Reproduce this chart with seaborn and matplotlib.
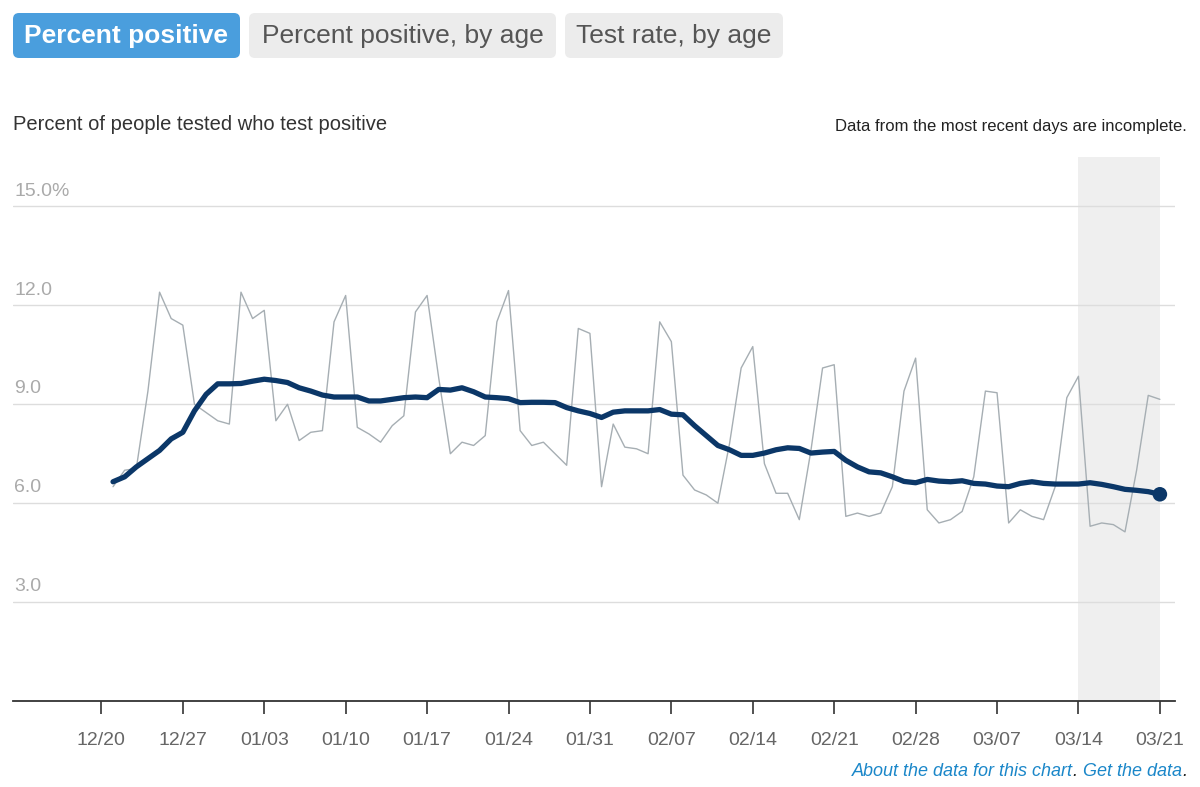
import numpy as np
import pandas as pd
import matplotlib
matplotlib.use("Agg")
import matplotlib.pyplot as plt
from matplotlib.patches import FancyBboxPatch
from matplotlib.transforms import IdentityTransform
import seaborn as sns

# 每日阳性率 (12/21 - 03/21)
start_date = "2020-12-21"
end_date = "2021-03-21"
daily_pct = [
    6.5, 7.0, 7.05, 9.4, 12.4, 11.6, 11.4, 9.0, 8.75, 8.5, 8.4,
    12.4, 11.6, 11.85, 8.5, 9.0, 7.9, 8.15, 8.2, 11.5, 12.3,
    8.3, 8.1, 7.85, 8.35, 8.65, 11.8, 12.3, 9.8, 7.5, 7.85,
    7.75, 8.05, 11.5, 12.45, 8.2, 7.75, 7.85, 7.5, 7.15, 11.3,
    11.15, 6.5, 8.4, 7.7, 7.65, 7.5, 11.5, 10.9, 6.85, 6.4,
    6.25, 6.0, 7.8, 10.1, 10.75, 7.2, 6.3, 6.3, 5.5, 7.6,
    10.1, 10.2, 5.6, 5.7, 5.6, 5.7, 6.5, 9.4, 10.4, 5.8,
    5.4, 5.5, 5.75, 6.8, 9.4, 9.35, 5.4, 5.8, 5.6, 5.5,
    6.5, 9.2, 9.85, 5.3, 5.4, 5.35, 5.13, 7.0, 9.27, 9.15,
]
# 7日平均
avg_pct = [
    6.65, 6.8, 7.1, 7.35, 7.6, 7.95, 8.15, 8.8, 9.3, 9.62, 9.62,
    9.63, 9.7, 9.76, 9.72, 9.66, 9.5, 9.4, 9.28, 9.22, 9.22,
    9.22, 9.1, 9.1, 9.15, 9.2, 9.22, 9.2, 9.45, 9.43, 9.5,
    9.38, 9.22, 9.2, 9.17, 9.05, 9.06, 9.06, 9.05, 8.9, 8.8,
    8.72, 8.6, 8.76, 8.8, 8.8, 8.8, 8.84, 8.7, 8.68, 8.35,
    8.05, 7.75, 7.62, 7.45, 7.45, 7.52, 7.62, 7.68, 7.66, 7.52,
    7.55, 7.57, 7.3, 7.1, 6.95, 6.92, 6.8, 6.66, 6.62, 6.72,
    6.67, 6.65, 6.68, 6.6, 6.58, 6.52, 6.5, 6.6, 6.65, 6.6,
    6.58, 6.58, 6.58, 6.62, 6.57, 6.5, 6.42, 6.39, 6.35, 6.27,
]

tick_dates = ["2020-12-20", "2020-12-27", "2021-01-03", "2021-01-10",
              "2021-01-17", "2021-01-24", "2021-01-31", "2021-02-07",
              "2021-02-14", "2021-02-21", "2021-02-28", "2021-03-07",
              "2021-03-14", "2021-03-21"]
tick_labels = ["12/20", "12/27", "01/03", "01/10", "01/17", "01/24", "01/31",
               "02/07", "02/14", "02/21", "02/28", "03/07", "03/14", "03/21"]
y_ticks = [3, 6, 9, 12, 15]
y_labels = ["3.0", "6.0", "9.0", "12.0", "15.0%"]
incomplete_start = "2021-03-14"
incomplete_end = "2021-03-21"

buttons = ["Percent positive", "Percent positive, by age", "Test rate, by age"]

df = pd.DataFrame({
    "date": pd.date_range(start_date, end_date, freq="D"),
    "daily": daily_pct,
    "avg": avg_pct,
})

sns.set_theme(style="white")
plt.rcParams["font.family"] = ["Liberation Sans", "DejaVu Sans"]

W, H = 1200, 787
fig = plt.figure(figsize=(W / 100, H / 100), dpi=100)
ax = fig.add_axes([13 / W, 1 - 701 / H, (1175 - 13) / W, (701 - 157) / H])

# 数据不完整区域
ax.axvspan(pd.Timestamp(incomplete_start), pd.Timestamp(incomplete_end),
           color="#efefef", lw=0, zorder=0)

sns.lineplot(data=df, x="date", y="daily", ax=ax, color="#a6aeb3", lw=1.0,
             zorder=2, solid_joinstyle="round")
sns.lineplot(data=df, x="date", y="avg", ax=ax, color="#0b3768", lw=3.8,
             zorder=3, solid_joinstyle="round", solid_capstyle="round")
last = df.iloc[[-1]]
sns.scatterplot(data=last, x="date", y="avg", ax=ax, color="#0b3768", s=110,
                edgecolor="none", zorder=4)

ax.set_xlim(pd.Timestamp("2020-12-20") - pd.Timedelta(days=7.6),
            pd.Timestamp("2021-03-21") + pd.Timedelta(days=1.3))
ax.set_ylim(0, 16.5)

# 网格线和y标签
ax.set_yticks(y_ticks)
ax.set_yticklabels([])
ax.tick_params(axis="y", length=0)
ax.yaxis.grid(True, color="#dddddd", lw=1)
ax.set_axisbelow(True)
for v, lab in zip(y_ticks, y_labels):
    ax.annotate(lab, xy=(0, v), xycoords=("axes fraction", "data"),
                xytext=(1, 11), textcoords="offset points",
                ha="left", va="center", fontsize=14, color="#aaaaaa")

ax.set_xticks(pd.to_datetime(tick_dates))
ax.set_xticklabels(tick_labels)
ax.tick_params(axis="x", direction="out", length=9, width=1.2, color="#333333",
               labelsize=14, labelcolor="#666666", pad=13, bottom=True)
ax.set_xlabel("")
ax.set_ylabel("")
for s in ["top", "left", "right"]:
    ax.spines[s].set_visible(False)
ax.spines["bottom"].set_color("#333333")
ax.spines["bottom"].set_linewidth(1.3)
ax.patch.set_alpha(0)

# 顶部按钮
btn_pos = [(13, 240), (249, 556), (565, 783)]
for i, (label, (x0, x1)) in enumerate(zip(buttons, btn_pos)):
    active = i == 0
    box = FancyBboxPatch((x0, H - 58), x1 - x0, 45,
                         boxstyle="round,pad=0,rounding_size=6",
                         transform=IdentityTransform(),
                         facecolor="#4a9edd" if active else "#ececec",
                         edgecolor="none")
    fig.patches.append(box)
    fig.text((x0 + x1) / 2 / W, 1 - 36 / H, label, ha="center", va="center",
             fontsize=19, color="white" if active else "#555555",
             fontweight="bold" if active else "normal")

fig.text(13 / W, 1 - 125 / H, "Percent of people tested who test positive",
         ha="left", va="center", fontsize=14.5, color="#333333")
fig.text(1187 / W, 1 - 126 / H, "Data from the most recent days are incomplete.",
         ha="right", va="center", fontsize=12, color="#222222")

# 底部链接
blue = "#1b87c9"
fs = 13
t4 = fig.text(1187 / W, 1 - 771 / H, ".", ha="right", va="center",
              fontsize=fs, style="italic", color="#222222")
t3 = ax.annotate("Get the data", xy=(0, 0), xycoords=t4, ha="right", va="bottom",
                 fontsize=fs, style="italic", color=blue, annotation_clip=False)
t2 = ax.annotate(". ", xy=(0, 0), xycoords=t3, ha="right", va="bottom",
                 fontsize=fs, style="italic", color="#222222", annotation_clip=False)
ax.annotate("About the data for this chart", xy=(0, 0), xycoords=t2, ha="right",
            va="bottom", fontsize=fs, style="italic", color=blue,
            annotation_clip=False)

fig.savefig("out.png", dpi=100)
